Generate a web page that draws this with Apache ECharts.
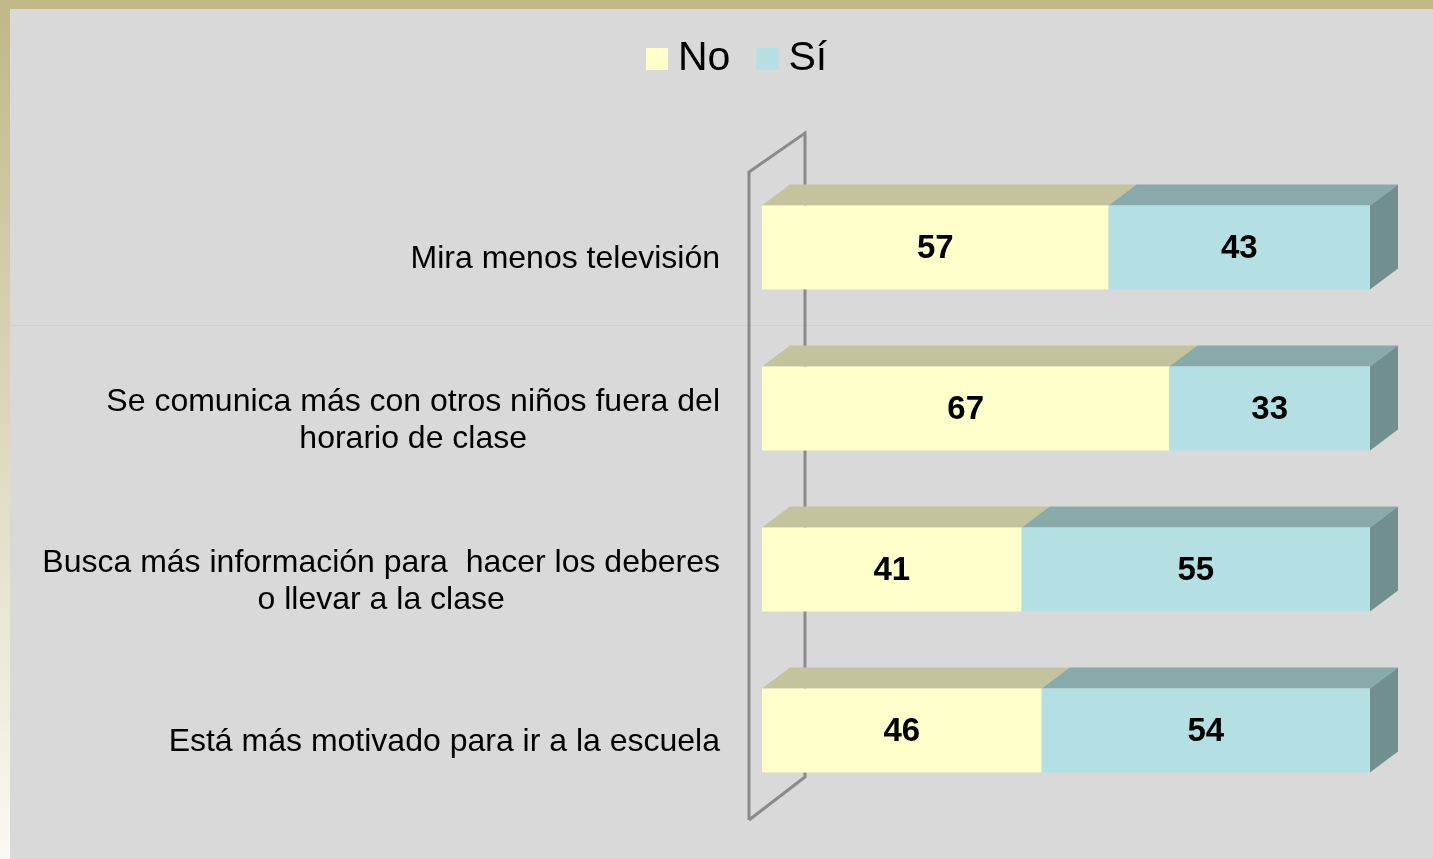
<!DOCTYPE html>
<html>
<head>
<meta charset="utf-8">
<script src="https://cdn.jsdelivr.net/npm/echarts@6/dist/echarts.min.js"></script>
<style>
  html, body { margin: 0; padding: 0; background: #d9d9d9; }
  #chart { width: 1433px; height: 859px; }
</style>
</head>
<body>
<div id="chart"></div>
<script>
// datos
var categories = [
    'Mira menos televisión',
    'Se comunica más con otros niños fuera del\nhorario de clase',
    'Busca más información para  hacer los deberes\no llevar a la clase',
    'Está más motivado para ir a la escuela'
];
var valuesNo = [57, 67, 41, 46];
var valuesSi = [43, 33, 55, 54];

var FONT = '"Liberation Sans", Arial, sans-serif';
var DX = 28, DY = -21;   // profundidad 3D de las barras
var LIFT = 12;           // las barras quedan un poco por encima del centro de la categoría

// barras al 100%: inicio / fin de cada tramo
function buildData(first) {
    var res = [];
    for (var i = 0; i < categories.length; i++) {
        var total = valuesNo[i] + valuesSi[i];
        var split = valuesNo[i] / total * 100;
        if (first) {
            res.push([0, split, i, valuesNo[i], 0]);
        } else {
            res.push([split, 100, i, valuesSi[i], 1]);
        }
    }
    return res;
}

function makeRender(front, top, side) {
    return function (params, api) {
        var cat = api.value(2);
        var p0 = api.coord([api.value(0), cat]);
        var p1 = api.coord([api.value(1), cat]);
        var h = api.size([0, 1])[1] * 0.522;
        var cy = p0[1] - LIFT;
        var y0 = cy - h / 2;
        var children = [];
        children.push({
            type: 'polygon',
            shape: {points: [[p0[0], y0], [p0[0] + DX, y0 + DY], [p1[0] + DX, y0 + DY], [p1[0], y0]]},
            style: {fill: top}
        });
        children.push({
            type: 'rect',
            shape: {x: p0[0], y: y0, width: p1[0] - p0[0], height: h},
            style: {fill: front}
        });
        if (api.value(4) === 1) {
            children.push({
                type: 'polygon',
                shape: {points: [[p1[0], y0], [p1[0] + DX, y0 + DY], [p1[0] + DX, y0 + DY + h], [p1[0], y0 + h]]},
                style: {fill: side}
            });
        }
        children.push({
            type: 'text',
            style: {
                text: String(api.value(3)),
                x: (p0[0] + p1[0]) / 2,
                y: cy + 1,
                align: 'center',
                verticalAlign: 'middle',
                font: 'bold 33px ' + FONT,
                fill: '#000'
            }
        });
        return {type: 'group', children: children};
    };
}

var myChart = echarts.init(document.getElementById('chart'));
myChart.setOption({
    backgroundColor: '#d9d9d9',
    animation: false,
    // marco y pared del eje
    graphic: [
        {type: 'rect', z: -10, shape: {x: 0, y: 0, width: 1433, height: 9}, style: {fill: '#c0b887'}},
        {type: 'rect', z: -10, shape: {x: 0, y: 0, width: 10, height: 859},
            style: {fill: new echarts.graphic.LinearGradient(0, 0, 0, 1, [
                {offset: 0, color: '#c0b887'},
                {offset: 1, color: '#fbf9f3'}
            ])}},
        {type: 'line', z: -9, shape: {x1: 10, y1: 325.5, x2: 1433, y2: 325.5}, style: {stroke: '#d2d0bf', lineWidth: 1}},
        {type: 'polyline', z: 0,
            shape: {points: [[749, 820], [749, 172], [805, 133], [805, 777], [749, 820]]},
            style: {stroke: '#8a8a8a', lineWidth: 3, fill: null}}
    ],
    legend: {
        data: ['No', 'Sí'],
        left: 646,
        top: 36,
        padding: 0,
        icon: 'rect',
        itemWidth: 22,
        itemHeight: 22,
        itemGap: 26,
        textStyle: {fontSize: 41, lineHeight: 44, fontFamily: FONT, color: '#000', padding: [2, 0, 0, 5]}
    },
    grid: {left: 762, right: 63, top: 179, height: 644},
    xAxis: {
        type: 'value', min: 0, max: 100,
        show: false
    },
    yAxis: {
        type: 'category',
        data: categories,
        inverse: true,
        axisLine: {show: false},
        axisTick: {show: false},
        splitLine: {show: false},
        axisLabel: {
            margin: 42,
            align: 'right',
            formatter: function (v) {
                return v.split('\n').map(function (s) { return '{c|' + s + '}'; }).join('\n');
            },
            rich: {
                c: {
                    fontSize: 32,
                    lineHeight: 37,
                    fontFamily: FONT,
                    color: '#000',
                    align: 'center'
                }
            }
        }
    },
    series: [
        {
            name: 'No',
            type: 'custom',
            itemStyle: {color: '#ffffcc'},
            encode: {x: [0, 1], y: 2},
            renderItem: makeRender('#ffffcc', '#c3c39d', '#a0a080'),
            data: buildData(true)
        },
        {
            name: 'Sí',
            type: 'custom',
            itemStyle: {color: '#b4e0e3'},
            encode: {x: [0, 1], y: 2},
            renderItem: makeRender('#b4e0e3', '#88aaaa', '#728f8f'),
            data: buildData(false)
        }
    ]
});
</script>
</body>
</html>
